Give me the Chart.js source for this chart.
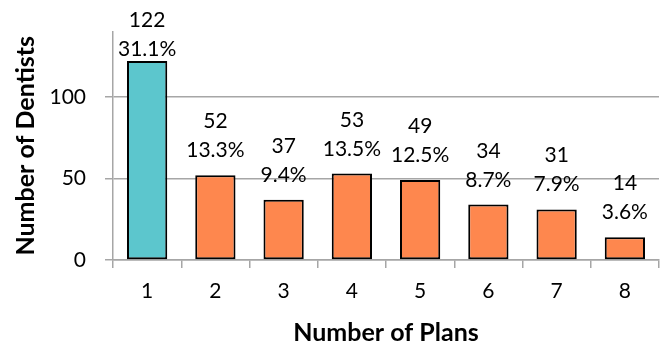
<!DOCTYPE html>
<html>
<head>
<meta charset="utf-8">
<script src="https://cdn.jsdelivr.net/npm/chart.js@4/dist/chart.umd.min.js"></script>
<style>
  html, body { margin: 0; padding: 0; background: #fff; }
  #wrap { width: 664px; height: 348px; }
</style>
</head>
<body>
<div id="wrap"><canvas id="c" width="664" height="348"></canvas></div>
<script>
const categories = ['1', '2', '3', '4', '5', '6', '7', '8'];
const dentists = [122, 52, 37, 53, 49, 34, 31, 14];
const percentLabels = ['31.1%', '13.3%', '9.4%', '13.5%', '12.5%', '8.7%', '7.9%', '3.6%'];
const barColors = ['#5CC6CD', '#FE874E', '#FE874E', '#FE874E', '#FE874E', '#FE874E', '#FE874E', '#FE874E'];
const yTicks = [0, 50, 100];

const FONT = 'Lato, "Open Sans", sans-serif';
const GRID = '#a6a6a6';

const labelPlugin = {
  id: 'barLabels',
  afterDatasetsDraw(chart) {
    const ctx = chart.ctx;
    const meta = chart.getDatasetMeta(0);
    ctx.save();
    ctx.font = '21px ' + FONT;
    ctx.fillStyle = '#000';
    ctx.textAlign = 'center';
    ctx.textBaseline = 'alphabetic';
    meta.data.forEach((bar, i) => {
      const top = bar.y;
      let pctBase = top - 18;
      let valBase = pctBase - 29;
      if (valBase < 27) { valBase = 27; pctBase = valBase + 29; }
      ctx.fillText(String(dentists[i]), bar.x, valBase);
      ctx.fillText(percentLabels[i], bar.x, pctBase);
    });
    ctx.restore();
  }
};

new Chart(document.getElementById('c'), {
  type: 'bar',
  data: {
    labels: categories,
    datasets: [{
      data: dentists,
      backgroundColor: barColors,
      borderColor: '#000',
      borderWidth: 2,
      borderSkipped: false,
      categoryPercentage: 1.0,
      barPercentage: 0.59
    }]
  },
  options: {
    responsive: false,
    animation: false,
    devicePixelRatio: 1,
    layout: { padding: { top: 28, right: 5, left: 0, bottom: 0 } },
    plugins: { legend: { display: false }, tooltip: { enabled: false } },
    scales: {
      x: {
        grid: { display: true, drawOnChartArea: false, drawTicks: true, tickLength: 8, color: GRID, lineWidth: 1.5, offset: true },
        border: { display: true, color: GRID, width: 1.5 },
        ticks: { color: '#000', font: { family: FONT, size: 21 }, padding: 11, maxRotation: 0 },
        title: { display: true, text: 'Number of Plans', color: '#000', font: { family: FONT, size: 25, weight: 'bold' }, padding: { top: 0, bottom: 0 } },
        afterFit(s) { s.height = 88; }
      },
      y: {
        min: 0,
        max: 140,
        afterBuildTicks(s) { s.ticks = yTicks.map(v => ({ value: v })); },
        grid: { color: GRID, lineWidth: 1.5, tickLength: 8 },
        border: { display: true, color: GRID, width: 1.5 },
        ticks: { color: '#000', font: { family: FONT, size: 21 }, padding: 19 },
        title: { display: true, text: 'Number of Dentists', color: '#000', font: { family: FONT, size: 25, weight: 'bold' }, padding: { top: 11, bottom: 0 } },
        afterFit(s) { s.width = 113; }
      }
    }
  },
  plugins: [labelPlugin]
});
</script>
</body>
</html>
